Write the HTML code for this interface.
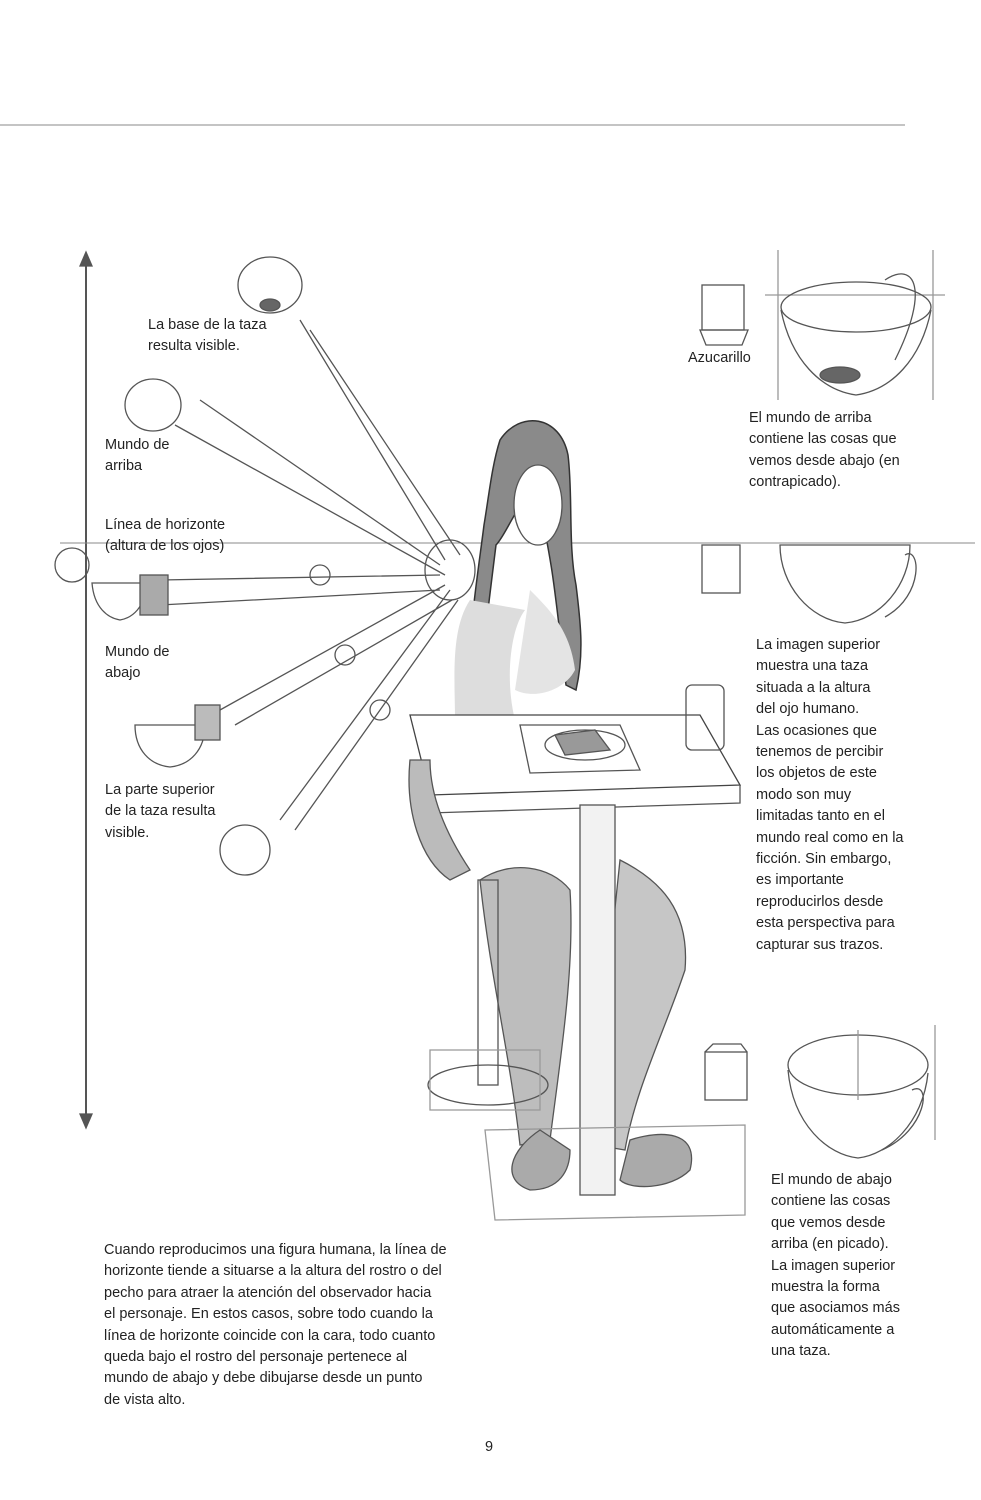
<!DOCTYPE html>
<html><head><meta charset="utf-8"><style>
body{margin:0;background:#fff;}
#p{position:relative;width:981px;height:1500px;overflow:hidden;background:#fff;font-family:"Liberation Sans",Arial,sans-serif;color:#222;font-size:14.5px;}
.t{position:absolute;line-height:21.4px;white-space:nowrap;}
svg{position:absolute;left:0;top:0;}
</style></head><body><div id="p">
<svg width="981" height="1500" fill="none" stroke="#555" stroke-width="1.3">
<line x1="0" y1="125" x2="905" y2="125" stroke="#888" stroke-width="1"/>
<line x1="86" y1="262" x2="86" y2="1118" stroke="#555" stroke-width="2"/>
<polygon points="86,252 80,266 92,266" fill="#555"/>
<polygon points="86,1128 80,1114 92,1114" fill="#555"/>
<line x1="60" y1="543" x2="975" y2="543" stroke="#888" stroke-width="1"/>
<!-- cups right -->
<rect x="702" y="285" width="42" height="45"/><path d="M700 330h48l-6 15h-36z"/>
<line x1="778" y1="250" x2="778" y2="400" stroke="#999"/><line x1="933" y1="250" x2="933" y2="400" stroke="#999"/>
<line x1="765" y1="295" x2="945" y2="295" stroke="#999"/>
<ellipse cx="856" cy="307" rx="75" ry="25"/><path d="M781 310c10 50 40 80 75 85 35-5 65-35 75-85"/>
<ellipse cx="840" cy="375" rx="20" ry="8" fill="#666"/><path d="M885 280c30-20 45 10 10 80"/>
<rect x="702" y="545" width="38" height="48"/>
<path d="M780 545h130c0 40-30 75-65 78-35-3-65-38-65-78z"/><path d="M905 555c15-10 20 40-20 62"/>
<rect x="705" y="1052" width="42" height="48"/><path d="M705 1052l8-8h28l6 8"/>
<ellipse cx="858" cy="1065" rx="70" ry="30"/><path d="M788 1070c5 55 40 85 70 88 30-3 65-35 70-85"/><path d="M912 1090c20-10 15 40-30 60"/>
<line x1="858" y1="1030" x2="858" y2="1100" stroke="#999"/><line x1="935" y1="1025" x2="935" y2="1140" stroke="#999"/>
<!-- hair (dark mass) -->
<path d="M500 440c20-30 60-25 68 15 5 40 0 90 8 130 5 40 8 70 0 105l-10-5c-5-40-10-90-15-120-5-30-10-60-20-70-15 10-25 40-35 50-5 40-10 80-15 125l-12-5c2-50 10-100 15-140 5-30 8-60 16-85z" fill="#8a8a8a" stroke="#333" stroke-width="1.5"/>
<ellipse cx="538" cy="505" rx="24" ry="40" fill="#fff"/>
<!-- body shading -->
<path d="M470 600c-20 30-15 80-15 120l60 0c-10-40-5-90 10-110z" fill="#ddd" stroke="none"/>
<path d="M530 590c20 20 40 40 45 80-10 20-40 30-60 20z" fill="#e4e4e4" stroke="none"/>
<!-- stockings -->
<path d="M480 880c30-20 70-15 90 10 5 80-10 170-20 250l-30 5c-10-90-30-170-40-265z" fill="#bdbdbd" stroke="#555"/>
<path d="M620 860c40 20 70 50 65 110-20 60-50 120-60 180l-30-5c5-90 15-190 25-285z" fill="#c6c6c6" stroke="#555"/>
<!-- table -->
<path d="M410 715l290 0 40 70-310 10z" stroke="#444" fill="#fff"/><path d="M430 795v18l310-10v-18"/>
<rect x="580" y="805" width="35" height="390" fill="#f2f2f2"/>
<path d="M520 725l100 0 20 45-110 3z"/><ellipse cx="585" cy="745" rx="40" ry="15"/>
<path d="M555 735l40-5 15 20-45 5z" fill="#999"/>
<rect x="686" y="685" width="38" height="65" rx="6"/>
<!-- stool -->
<rect x="478" y="880" width="20" height="205"/><ellipse cx="488" cy="1085" rx="60" ry="20"/>
<path d="M430 1050l110 0 0 60-110 0z" stroke="#999"/><path d="M485 1130l260-5 0 90-250 5z" stroke="#999"/>
<!-- skirt -->
<path d="M410 760c-5 50 10 100 40 120l20-10c-20-30-40-70-40-110z" fill="#bbb" stroke="#555"/>
<!-- shoes -->
<path d="M540 1130c-30 20-40 50-10 60 30 0 40-20 40-40z" fill="#aaa"/><path d="M630 1140c30-10 70-10 60 30-20 20-60 20-70 10z" fill="#aaa"/>
<!-- arms and cups left -->
<path d="M445 560L300 320M460 555L310 330M440 565L200 400M445 575L175 425M440 575L160 580M440 590L160 605M445 585L220 710M452 600L235 725M450 590L280 820M458 600L295 830"/>
<ellipse cx="270" cy="285" rx="32" ry="28"/><ellipse cx="270" cy="305" rx="10" ry="6" fill="#666"/>
<ellipse cx="153" cy="405" rx="28" ry="26"/>
<path d="M92 583h55c-2 25-15 35-27 37-12-2-26-12-28-37z"/><rect x="140" y="575" width="28" height="40" fill="#aaa"/>
<path d="M135 725h70c0 25-15 40-35 42-20-2-35-17-35-42z"/><rect x="195" y="705" width="25" height="35" fill="#bbb"/>
<ellipse cx="245" cy="850" rx="25" ry="25"/>
<circle cx="72" cy="565" r="17"/><circle cx="320" cy="575" r="10"/><circle cx="345" cy="655" r="10"/><circle cx="380" cy="710" r="10"/>
<ellipse cx="450" cy="570" rx="25" ry="30"/>
</svg>
<div class="t" style="left:148px;top:315px">La base de la taza<br>resulta visible.</div>
<div class="t" style="left:105px;top:435px">Mundo de<br>arriba</div>
<div class="t" style="left:105px;top:515px">Línea de horizonte<br>(altura de los ojos)</div>
<div class="t" style="left:105px;top:642px">Mundo de<br>abajo</div>
<div class="t" style="left:105px;top:780px">La parte superior<br>de la taza resulta<br>visible.</div>
<div class="t" style="left:688px;top:348px">Azucarillo</div>
<div class="t" style="left:749px;top:408px">El mundo de arriba<br>contiene las cosas que<br>vemos desde abajo (en<br>contrapicado).</div>
<div class="t" style="left:756px;top:635px;background:#fff">La imagen superior<br>muestra una taza<br>situada a la altura<br>del ojo humano.<br>Las ocasiones que<br>tenemos de percibir<br>los objetos de este<br>modo son muy<br>limitadas tanto en el<br>mundo real como en la<br>ficción. Sin embargo,<br>es importante<br>reproducirlos desde<br>esta perspectiva para<br>capturar sus trazos.</div>
<div class="t" style="left:771px;top:1170px">El mundo de abajo<br>contiene las cosas<br>que vemos desde<br>arriba (en picado).<br>La imagen superior<br>muestra la forma<br>que asociamos más<br>automáticamente a<br>una taza.</div>
<div class="t" style="left:104px;top:1240px">Cuando reproducimos una figura humana, la línea de<br>horizonte tiende a situarse a la altura del rostro o del<br>pecho para atraer la atención del observador hacia<br>el personaje. En estos casos, sobre todo cuando la<br>línea de horizonte coincide con la cara, todo cuanto<br>queda bajo el rostro del personaje pertenece al<br>mundo de abajo y debe dibujarse desde un punto<br>de vista alto.</div>
<div class="t" style="left:485px;top:1437px">9</div>
</div></body></html>
